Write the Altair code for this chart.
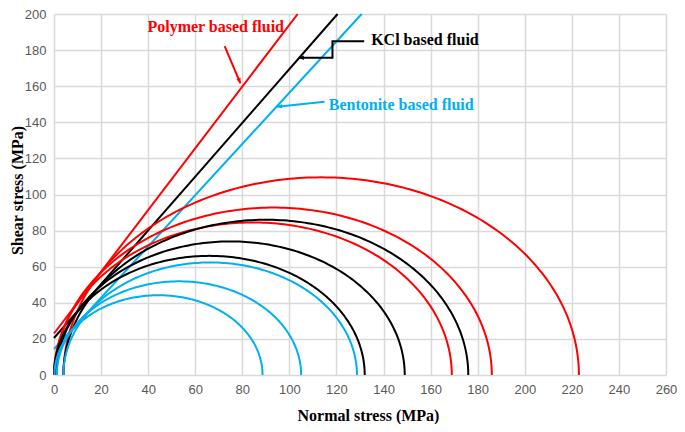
import altair as alt
import pandas as pd
import numpy as np

# ---- data ----
fluids = ["Polymer based fluid", "KCl based fluid", "Bentonite based fluid"]
colors = ["#ff0000", "#000000", "#00b0f0"]

# Mohr circles: minimum / maximum principal stress (MPa)
circle_fluid = ["Polymer based fluid"] * 3 + ["KCl based fluid"] * 3 + ["Bentonite based fluid"] * 3
sigma3 = [0.0, 0.5, 4.0, 0.0, 1.0, 4.0, 0.2, 1.2, 4.0]
sigma1 = [169.0, 186.0, 223.0, 132.0, 149.0, 176.0, 88.6, 105.0, 128.7]

# Failure envelopes: cohesion (MPa) and tan(friction angle)
cohesion = [23.0, 20.5, 14.4]
friction_slope = [1.71, 1.49, 1.42]

x_ticks = list(range(0, 261, 20))
y_ticks = list(range(0, 201, 20))

# Annotations (data coordinates)
label_text = ["Polymer based fluid", "KCl based fluid", "Bentonite based fluid"]
label_x = [68.7, 157.6, 147.5]
label_y = [193.0, 185.4, 149.7]

arrow_id = ["p", "p", "k", "k", "k", "k", "b", "b"]
arrow_x = [72.5, 79.2, 131.8, 118.3, 118.3, 104.0, 114.9, 94.8]
arrow_y = [182.2, 161.6, 184.9, 184.9, 175.7, 175.7, 151.4, 148.6]
arrow_color = ["#ff0000"] * 2 + ["#000000"] * 4 + ["#00b0f0"] * 2

head_x = [79.2, 104.0, 94.8]
head_y = [161.6, 175.7, 148.6]
head_angle = [157, 270, 264]
head_color = ["#ff0000", "#000000", "#00b0f0"]

# ---- build tables ----
rows = []
theta = np.linspace(0, np.pi, 181)
for i, (f, s3, s1) in enumerate(zip(circle_fluid, sigma3, sigma1)):
    c = (s1 + s3) / 2
    r = (s1 - s3) / 2
    for k, t in enumerate(theta):
        rows.append({"id": i, "fluid": f, "o": k,
                     "x": c + r * np.cos(t), "y": r * np.sin(t)})
circles = pd.DataFrame(rows)

env_rows = []
for f, c0, m in zip(fluids, cohesion, friction_slope):
    env_rows.append({"fluid": f, "o": 0, "x": 0.0, "y": c0})
    env_rows.append({"fluid": f, "o": 1, "x": (200 - c0) / m, "y": 200.0})
env = pd.DataFrame(env_rows)

labels = pd.DataFrame({"text": label_text, "x": label_x, "y": label_y, "color": colors})
arrows = pd.DataFrame({"id": arrow_id, "x": arrow_x, "y": arrow_y, "color": arrow_color,
                       "o": list(range(len(arrow_x)))})
heads = pd.DataFrame({"x": head_x, "y": head_y, "angle": head_angle, "color": head_color})

xscale = alt.Scale(domain=[0, 260], nice=False, zero=False)
yscale = alt.Scale(domain=[0, 200], nice=False, zero=False)
cscale = alt.Scale(domain=fluids, range=colors)

xaxis = alt.Axis(values=x_ticks, title="Normal stress (MPa)", titleX=314, titleY=40,
                 titleBaseline="middle", labelPadding=8, labelOverlap=False,
                 labelFlush=False)
yaxis = alt.Axis(values=y_ticks, title="Shear stress (MPa)", titleX=-37, titleY=176,
                 titleBaseline="middle", titleAlign="center", labelPadding=8,
                 labelOverlap=False, labelFlush=False)

X = alt.X("x:Q", scale=xscale, axis=xaxis)
Y = alt.Y("y:Q", scale=yscale, axis=yaxis)

circle_layer = alt.Chart(circles).mark_line(strokeWidth=2).encode(
    x=X, y=Y,
    color=alt.Color("fluid:N", scale=cscale, legend=None),
    detail="id:N",
    order="o:Q",
)

env_layer = alt.Chart(env).mark_line(strokeWidth=2).encode(
    x=X, y=Y,
    color=alt.Color("fluid:N", scale=cscale, legend=None),
    detail="fluid:N",
    order="o:Q",
)

text_layer = alt.Chart(labels).mark_text(
    font="Liberation Serif", fontWeight="bold", fontSize=16, align="center", baseline="middle"
).encode(
    x=X, y=Y,
    text="text:N",
    color=alt.Color("color:N", scale=None),
)

arrow_layer = alt.Chart(arrows).mark_line(strokeWidth=2).encode(
    x=X, y=Y,
    detail="id:N",
    order="o:Q",
    color=alt.Color("color:N", scale=None),
)

head_layer = alt.Chart(heads).mark_point(
    shape="M0,0L-0.45,1L0.45,1Z", filled=True, size=100, opacity=1
).encode(
    x=X, y=Y,
    angle=alt.Angle("angle:Q", scale=None),
    color=alt.Color("color:N", scale=None),
)

chart = alt.layer(env_layer, circle_layer, text_layer, arrow_layer, head_layer).properties(
    width=612, height=361,
    autosize=alt.AutoSizeParams(type="none"),
    padding={"left": 46, "top": 6, "right": 11, "bottom": 49},
).configure_view(stroke=None).configure_axis(
    grid=True, gridColor="#d9d9d9", gridWidth=1.5,
    domain=False, ticks=False,
    labelFont="Liberation Sans", labelFontSize=13, labelColor="#595959",
    titleFont="Liberation Serif", titleFontWeight="bold", titleFontSize=16, titleColor="#000000",
)

chart.save("out.html", embed_options={"renderer": "svg", "actions": False})
